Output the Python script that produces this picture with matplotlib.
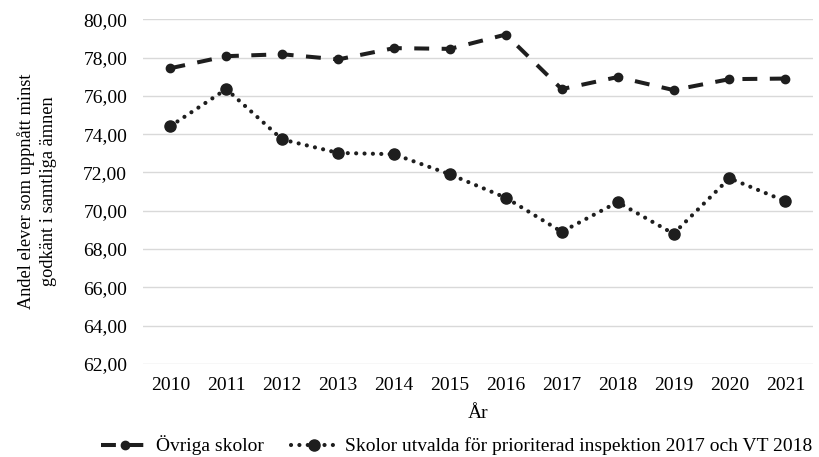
import matplotlib.pyplot as plt
import numpy as np
from matplotlib.ticker import FuncFormatter

years = ["2010", "2011", "2012", "2013", "2014", "2015",
         "2016", "2017", "2018", "2019", "2020", "2021"]
ovriga = [77.44, 78.07, 78.17, 77.90, 78.49, 78.45,
          79.20, 76.35, 76.98, 76.30, 76.87, 76.90]
utvalda = [74.42, 76.35, 73.72, 73.02, 72.95, 71.90,
           70.68, 68.90, 70.45, 68.80, 71.70, 70.50]

plt.rcParams['font.family'] = ['Liberation Serif', 'DejaVu Serif']
plt.rcParams['font.size'] = 14

fig = plt.figure(figsize=(8.19, 4.57), dpi=100)
ax = fig.add_axes([0.174, 0.2035, 0.819, 0.7545])

x = np.arange(len(years))
col = '#1e1e1e'
ax.plot(x, ovriga, color=col, lw=2.9, dashes=(3.7, 3.1), marker='o',
        markersize=6, label='Övriga skolor')
ax.plot(x, utvalda, color=col, lw=3.0, linestyle=(0, (0.01, 2.0)),
        dash_capstyle='round', marker='o', markersize=8,
        label='Skolor utvalda för prioriterad inspektion 2017 och VT 2018')

ax.set_xlim(-0.5, len(years) - 0.5)
ax.set_ylim(62, 80)
ax.set_yticks(np.arange(62, 81, 2))
ax.yaxis.set_major_formatter(FuncFormatter(lambda v, p: f"{v:.2f}".replace('.', ',')))
ax.set_xticks(x)
ax.set_xticklabels(years)
ax.tick_params(axis='y', length=0, pad=11)
ax.tick_params(axis='x', length=0, pad=9)
ax.grid(axis='y', color='#d9d9d9', lw=1)
ax.set_axisbelow(True)
for s in ax.spines.values():
    s.set_visible(False)

ax.set_xlabel('År', labelpad=8)
ax.set_ylabel('Andel elever som uppnått minst\ngodkänt i samtliga ämnen',
              fontsize=13.2, labelpad=19, linespacing=1.35)

fig.legend(loc='lower center', bbox_to_anchor=(0.558, -0.035), ncol=2, frameon=False,
           handlelength=2.4, columnspacing=1.4, handletextpad=0.4)

fig.savefig('out.png', dpi=100)
